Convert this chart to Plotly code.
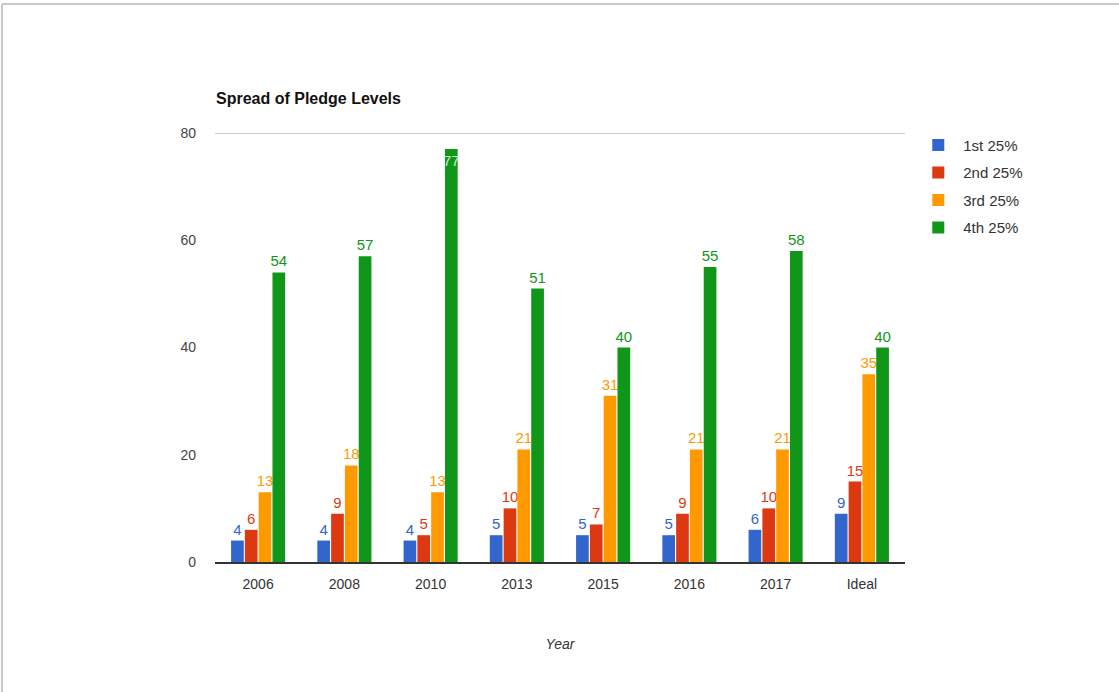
import plotly.graph_objects as go

categories = ["2006", "2008", "2010", "2013", "2015", "2016", "2017", "Ideal"]
series_names = ["1st 25%", "2nd 25%", "3rd 25%", "4th 25%"]
q1 = [4, 4, 4, 5, 5, 5, 6, 9]
q2 = [6, 9, 5, 10, 7, 9, 10, 15]
q3 = [13, 18, 13, 21, 31, 21, 21, 35]
q4 = [54, 57, 77, 51, 40, 55, 58, 40]
y_ticks = [0, 20, 40, 60, 80]

colors = ["#3366cc", "#dc3912", "#ff9900", "#109618"]
FONT = "Liberation Sans, Arial, sans-serif"

fig = go.Figure()
top = max(y_ticks)
for i, (name, vals, col) in enumerate(zip(series_names, [q1, q2, q3, q4], colors)):
    positions = ["inside" if v > top * 0.9 else "outside" for v in vals]
    tcolors = ["#c8f0c8" if v > top * 0.9 else col for v in vals]
    fig.add_trace(go.Bar(
        name=name, x=categories, y=vals, marker_color=col,
        legendgroup=f"g{i}",
        text=[str(v) for v in vals], textposition=positions,
        insidetextanchor="end", constraintext="none",
        textfont=dict(color=tcolors, size=15, family=FONT),
        outsidetextfont=dict(color=col, size=15, family=FONT),
        insidetextfont=dict(color=tcolors, size=15, family=FONT),
        cliponaxis=False, marker_line_width=0,
    ))

fig.update_layout(
    width=1119, height=692,
    paper_bgcolor="white", plot_bgcolor="white",
    margin=dict(l=215, r=214, t=133, b=130),
    barmode="group", bargap=0.36, bargroupgap=0.08,
    font=dict(family=FONT, size=13, color="#444444"),
    title=dict(text="<b>Spread of Pledge Levels</b>", x=216 / 1119, xanchor="left",
               y=1 - 98 / 692, yanchor="middle",
               font=dict(size=16, color="#111111", family=FONT)),
    xaxis=dict(showgrid=False, showline=True, linecolor="#333333", linewidth=2,
               ticks="", ticklabelstandoff=8, tickfont=dict(size=14, color="#333333"),
               title=dict(text="<i>Year</i>", font=dict(size=14, color="#333333"), standoff=48)),
    yaxis=dict(range=[0, 80], tickvals=y_ticks, showgrid=False, zeroline=False,
               showline=False, ticks="", ticklabelstandoff=18,
               tickfont=dict(size=14, color="#444444")),
    legend=dict(x=1.012, xanchor="left", y=1.01, yanchor="top",
                font=dict(size=15, color="#333333"), tracegroupgap=5,
                itemsizing="constant", itemwidth=40, bgcolor="rgba(0,0,0,0)"),
    showlegend=True,
)

# top gridline at the axis maximum
fig.add_shape(type="line", xref="paper", yref="y", x0=0, x1=1, y0=top, y1=top,
              line=dict(color="#cccccc", width=2), layer="below")

# sheet border lines (decorative)
fig.add_shape(type="line", xref="paper", yref="paper",
              x0=-213 / 690, x1=(1119 - 215) / 690, y0=1 + 129 / 429, y1=1 + 129 / 429,
              line=dict(color="#c8c8c8", width=2))
fig.add_shape(type="line", xref="paper", yref="paper",
              x0=-213 / 690, x1=-213 / 690, y0=1 + 129 / 429, y1=-130 / 429,
              line=dict(color="#c8c8c8", width=2))

fig.write_html("out.html")
